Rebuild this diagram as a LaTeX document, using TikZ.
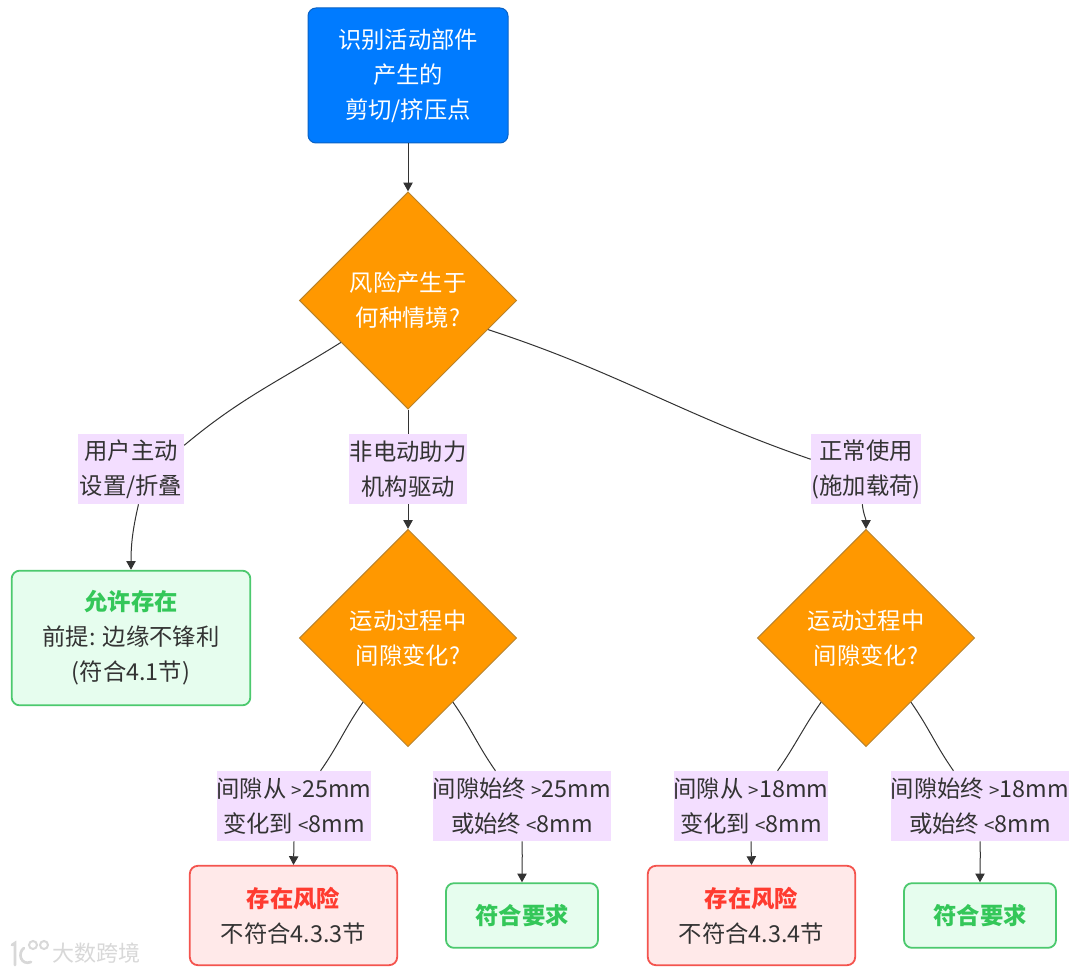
\documentclass[tikz,border=0pt]{standalone}
\usepackage{fontspec}
\setmainfont{Noto Sans CJK SC}
\usetikzlibrary{shapes.geometric,arrows.meta}
\definecolor{txt}{HTML}{333333}
\definecolor{lnk}{HTML}{333333}
\definecolor{bluef}{HTML}{007BFF}
\definecolor{blued}{HTML}{0A62C4}
\definecolor{orgf}{HTML}{FF9800}
\definecolor{orgd}{HTML}{B9822A}
\definecolor{grnf}{HTML}{E6FDEE}
\definecolor{grnd}{HTML}{4CC96E}
\definecolor{grnt}{HTML}{34C759}
\definecolor{redf}{HTML}{FFE9E9}
\definecolor{redd}{HTML}{F4544E}
\definecolor{redt}{HTML}{FF3B30}
\definecolor{lab}{HTML}{F3DEFF}
\definecolor{wm}{HTML}{D8D8D8}
\tikzset{
  x=0.75pt,y=-0.75pt,
  tx/.style={font=\fontsize{17.5}{26.25}\selectfont,align=center,inner sep=0pt,text=txt,execute at begin node={\vspace*{1.5pt}}},
  box/.style={tx,draw,rounded corners=6pt,line width=1.35pt},
  startbox/.style={box,fill=bluef,draw=blued,text=white,minimum width=150pt,minimum height=101.25pt,line width=0.75pt},
  dec/.style={tx,shape=diamond,aspect=1,fill=orgf,draw=orgd,text=white,minimum width=163pt,minimum height=163pt,line width=0.75pt},
  okbox/.style={box,fill=grnf,draw=grnd},
  riskbox/.style={box,fill=redf,draw=redd,minimum width=155.5pt,minimum height=74.5pt},
  lbl/.style={tx,fill=lab,minimum height=52.5pt},
  lnkline/.style={draw=lnk,line width=0.75pt},
  arr/.style={lnkline,-{Triangle[length=6.5pt,width=7pt]}},
}
\newcommand{\gb}[1]{{\bfseries\color{grnt}#1}}
\newcommand{\rb}[1]{{\bfseries\color{redt}#1}}
\newcommand{\sm}[1]{{\fontsize{14}{14}\selectfont #1}}
\begin{document}
\begin{tikzpicture}
\useasboundingbox (0,0) rectangle (1080,973);
\fill[white] (0,0) rectangle (1080,973);

\node[startbox] (start) at (408,75.5) {识别活动部件\\产生的\\剪切/挤压点};
\node[dec] (d1) at (408,300.5) {风险产生于\\何种情境?};
\node[dec] (d2) at (408,638) {运动过程中\\间隙变化?};
\node[dec] (d3) at (866,638) {运动过程中\\间隙变化?};

\node[lbl,minimum width=79.5pt] (l1) at (131,469) {用户主动\\设置/折叠};
\node[lbl,minimum width=88pt] (l2) at (408,469) {非电动助力\\机构驱动};
\node[lbl,minimum width=82.5pt] (l3) at (866,469) {正常使用\\(施加载荷)};

\node[okbox,minimum width=179pt,minimum height=101pt] (allow) at (131,638) {\gb{允许存在}\\前提: 边缘不锋利\\(符合4.1节)};

\node[lbl,minimum width=115pt] (la) at (294,806) {间隙从 \sm{>}25mm\\变化到 \sm{<}8mm};
\node[lbl,minimum width=132pt] (lb) at (522,806) {间隙始终 \sm{>}25mm\\或始终 \sm{<}8mm};
\node[lbl,minimum width=115pt] (lc) at (751,806) {间隙从 \sm{>}18mm\\变化到 \sm{<}8mm};
\node[lbl,minimum width=132pt] (ld) at (980,806) {间隙始终 \sm{>}18mm\\或始终 \sm{<}8mm};

\node[riskbox] (r1) at (293.5,915.5) {\rb{存在风险}\\不符合4.3.3节};
\node[okbox,minimum width=114pt,minimum height=48.5pt] (g1) at (522,915.5) {\gb{符合要求}};
\node[riskbox] (r2) at (751.5,915.5) {\rb{存在风险}\\不符合4.3.4节};
\node[okbox,minimum width=114pt,minimum height=48.5pt] (g2) at (980,915.5) {\gb{符合要求}};

\draw[arr] (start.south) -- (d1.north);
\draw[lnkline] (d1.212) to[out=-148,in=40] (l1.24.4);
\draw[arr] (l1.-78.5) to[out=-103,in=90] (allow.north);
\draw[lnkline] (d1.south) -- (l2.north);
\draw[arr] (l2.south) -- (d2.north);
\draw[lnkline] (d1.-20.6) to[out=-18,in=161] (l3.170);
\draw[arr] (l3.-96) to[out=-84,in=90] (d3.north);
\draw[lnkline] (d2.235.3) to[out=-125,in=55] (la.53.4);
\draw[arr] (la.south) -- (r1.north);
\draw[lnkline] (d2.-55.5) to[out=-55,in=125] (lb.127.6);
\draw[arr] (lb.-90) to[out=-88,in=90] (g1.north);
\draw[lnkline] (d3.235.3) to[out=-125,in=55] (lc.53.4);
\draw[arr] (lc.south) -- (r2.north);
\draw[lnkline] (d3.-55.5) to[out=-55,in=125] (ld.127.6);
\draw[arr] (ld.-90) to[out=-88,in=90] (g2.north);

% watermark
\draw[wm,line width=2pt,line cap=round] (12,945) -- (15,943) -- (15,965);
\draw[wm,line width=2pt,line cap=round] (24,948) .. controls (17,953) and (21,966) .. (31,962);
\draw[wm,line width=1.5pt] (33,945) circle[radius=4];
\draw[wm,line width=1.5pt] (44,945) circle[radius=4];
\node[font=\fontsize{16.5}{16.5}\selectfont,text=wm,inner sep=0pt] (wmk) at (96,953.5) {大数跨境};
\end{tikzpicture}
\end{document}
